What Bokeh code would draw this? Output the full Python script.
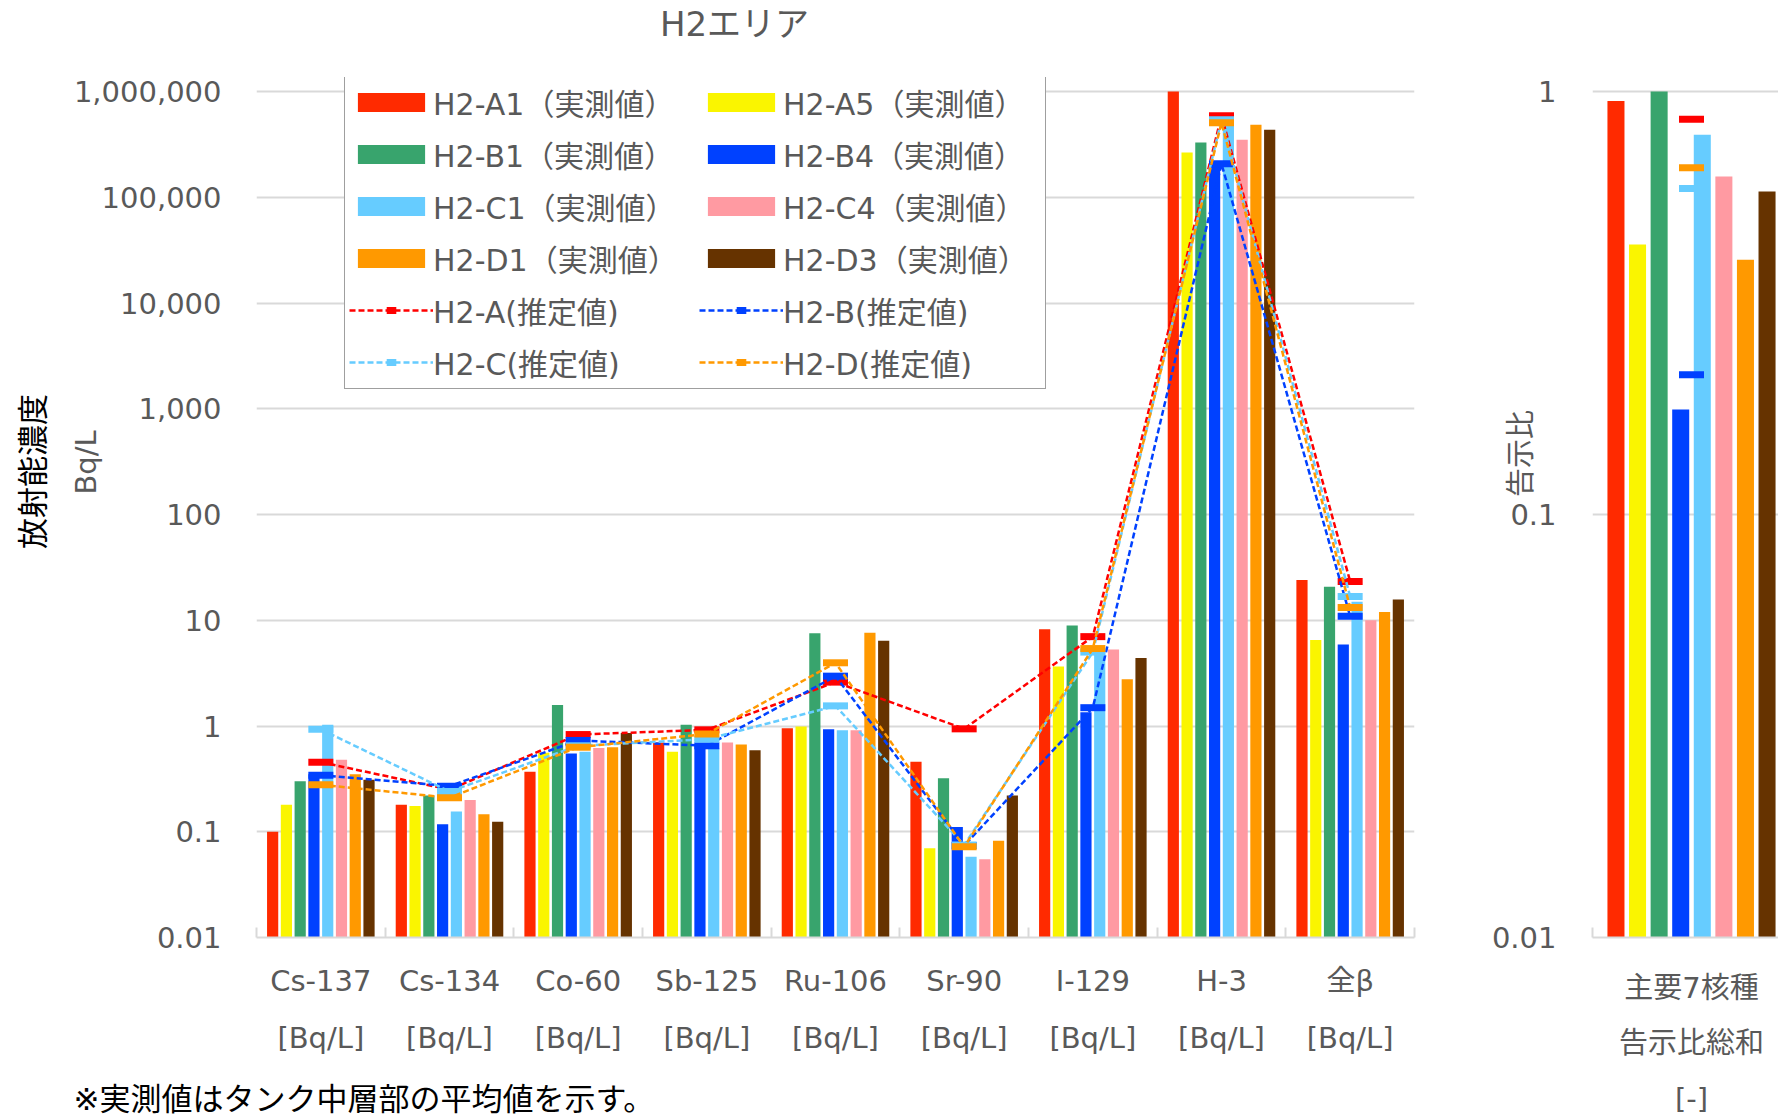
from math import pi
from bokeh.plotting import figure
from bokeh.layouts import row, column
from bokeh.models import (Range1d, FixedTicker, LinearAxis, NumeralTickFormatter,
                          Legend, LegendItem, Label)
from bokeh.embed import file_html
from bokeh.resources import INLINE

# ---------------- data ----------------
categories = ["Cs-137", "Cs-134", "Co-60", "Sb-125", "Ru-106", "Sr-90", "I-129", "H-3", "全β"]
unit_labels = ["[Bq/L]"] * 9

bar_names = ["H2-A1（実測値）", "H2-A5（実測値）", "H2-B1（実測値）", "H2-B4（実測値）",
             "H2-C1（実測値）", "H2-C4（実測値）", "H2-D1（実測値）", "H2-D3（実測値）"]
bar_colors = ["#FF2A00", "#FAF500", "#38A46D", "#0041FF", "#66CCFF", "#FF9AA2", "#FF9900", "#663300"]

h2_a1 = [0.10, 0.18, 0.37, 0.70, 0.95, 0.46, 8.2, 1.0e6, 24.0]
h2_a5 = [0.18, 0.175, 0.56, 0.57, 0.99, 0.070, 3.65, 2.65e5, 6.5]
h2_b1 = [0.30, 0.22, 1.58, 1.03, 7.55, 0.32, 8.9, 3.3e5, 20.7]
h2_b4 = [0.35, 0.118, 0.55, 0.65, 0.93, 0.111, 1.35, 2.2e5, 5.9]
h2_c1 = [1.03, 0.155, 0.57, 0.62, 0.91, 0.058, 5.2, 5.0e5, 15.0]
h2_c4 = [0.48, 0.20, 0.62, 0.70, 0.91, 0.055, 5.3, 3.5e5, 10.0]
h2_d1 = [0.35, 0.146, 0.63, 0.67, 7.6, 0.082, 2.77, 4.85e5, 12.0]
h2_d3 = [0.31, 0.124, 0.86, 0.59, 6.4, 0.22, 4.4, 4.35e5, 15.7]
bar_series = [h2_a1, h2_a5, h2_b1, h2_b4, h2_c1, h2_c4, h2_d1, h2_d3]

est_names = ["H2-A(推定値)", "H2-B(推定値)", "H2-C(推定値)", "H2-D(推定値)"]
est_colors = ["#FF0000", "#0041FF", "#66CCFF", "#FF9900"]
est_a = [0.455, 0.25, 0.83, 0.92, 2.6, 0.94, 7.0, 5.9e5, 23.3]
est_b = [0.343, 0.27, 0.73, 0.65, 2.96, 0.074, 1.49, 2.07e5, 10.9]
est_c = [0.93, 0.24, 0.65, 0.75, 1.55, 0.075, 5.0, 5.4e5, 16.8]
est_d = [0.278, 0.21, 0.63, 0.84, 3.96, 0.072, 5.4, 5.06e5, 13.2]
est_series = [est_a, est_b, est_c, est_d]

ratio_label_lines = ["主要7核種", "告示比総和", "[-]"]
ratio_bars = [0.95, 0.435, 1.0, 0.177, 0.79, 0.63, 0.40, 0.58]
ratio_est = [0.86, 0.214, 0.59, 0.66]

main_ticks = [0.01, 0.1, 1, 10, 100, 1000, 10000, 100000, 1000000]
ratio_ticks = [0.01, 0.1, 1]

chart_title = "H2エリア"
y_title = "放射能濃度"
y_unit = "Bq/L"
ratio_y_title = "告示比"
footnote = "※実測値はタンク中層部の平均値を示す。"

# ---------------- style / layout constants ----------------
FONT = "DejaVu Sans, Noto Sans CJK JP"
GRAY = "#595959"
GRID = "#D9D9D9"
FS = "29px"
PAGE_W, PAGE_H = 1778, 1118
PLOT_H = 846                     # height from top gridline to the 0.01 axis
EXTRA_TOP = 14                   # frames extend a little above the top gridline
TOP_BORDER = 91 - EXTRA_TOP
BOTTOM_BORDER = PAGE_H - TOP_BORDER - PLOT_H - EXTRA_TOP

n = len(categories)
centers = [i + 0.5 for i in range(n)]
boundaries = [float(i) for i in range(n + 1)]
PITCH = 0.107
BW = 0.087


def style_common(p):
    p.outline_line_color = None
    p.background_fill_color = "white"
    p.border_fill_color = "white"
    p.xgrid.grid_line_color = None
    p.ygrid.grid_line_color = GRID
    p.ygrid.grid_line_width = 2
    ax = p.yaxis[0]
    ax.formatter = NumeralTickFormatter(format="0,0.[00]")
    ax.axis_line_color = None
    ax.major_tick_line_color = None
    ax.minor_tick_line_color = None
    ax.major_tick_out = 0
    ax.major_tick_in = 0
    ax.minor_tick_out = 0
    ax.minor_tick_in = 0
    ax.major_label_text_font = FONT
    ax.major_label_text_font_size = FS
    ax.major_label_text_color = GRAY


def label_axis(labels, ticks, standoff, minor=None):
    if minor is not None:
        ax = LinearAxis(ticker=FixedTicker(ticks=ticks, minor_ticks=minor),
                        major_label_overrides={c: lab for c, lab in zip(ticks, labels)})
        ax.axis_line_color = GRID
        ax.axis_line_width = 2
        ax.minor_tick_line_color = GRID
        ax.minor_tick_line_width = 2
        ax.minor_tick_in = 10
        ax.minor_tick_out = 0
    else:
        ax = LinearAxis(ticker=FixedTicker(ticks=ticks),
                        major_label_overrides={c: lab for c, lab in zip(ticks, labels)})
        ax.axis_line_color = None
        ax.minor_tick_line_color = None
        ax.minor_tick_in = 0
        ax.minor_tick_out = 0
    ax.major_tick_line_color = None
    ax.major_tick_in = 0
    ax.major_tick_out = 0
    ax.major_label_standoff = standoff
    ax.major_label_text_font = FONT
    ax.major_label_text_font_size = FS
    ax.major_label_text_color = GRAY
    return ax


# ---------------- main chart ----------------
y_top_main = 1e6 * 10 ** (EXTRA_TOP / (PLOT_H / 8))
p = figure(frame_width=1158, frame_height=PLOT_H + EXTRA_TOP, min_border_left=256, min_border_right=66,
           min_border_top=TOP_BORDER, min_border_bottom=BOTTOM_BORDER,
           x_range=Range1d(0, n), y_range=Range1d(0.01, y_top_main), y_axis_type="log",
           x_axis_location=None, output_backend="svg", toolbar_location=None)
style_common(p)
p.yaxis[0].ticker = FixedTicker(ticks=main_ticks)
p.ygrid.ticker = FixedTicker(ticks=main_ticks)
p.yaxis[0].major_label_standoff = 35

p.add_layout(label_axis(categories, centers, 26, minor=boundaries), "below")
p.add_layout(label_axis(unit_labels, centers, 20), "below")

items = []
for k, (vals, name, col) in enumerate(zip(bar_series, bar_names, bar_colors)):
    xs = [c + (k - 3.5) * PITCH for c in centers]
    r = p.vbar(x=xs, top=vals, bottom=0.01, width=BW, fill_color=col, line_color=None)
    items.append(LegendItem(label=name, renderers=[r]))

for vals, name, col in zip(est_series, est_names, est_colors):
    rl = p.line(x=centers, y=vals, line_color=col, line_width=2.5, line_dash="6 3")
    rm = p.scatter(x=centers, y=vals, marker="dash", size=25, line_color=col, line_width=7)
    items.append(LegendItem(label=name, renderers=[rl, rm]))

legend = Legend(items=items, location=(88, 548), ncols=2, orientation="horizontal",
                glyph_width=84, glyph_height=24, label_standoff=0, label_width=258,
                label_height=19, spacing=8, padding=4, margin=0,
                border_line_color="#404040", border_line_width=1.5,
                background_fill_color="white", background_fill_alpha=1.0,
                label_text_font=FONT, label_text_font_size="30px", label_text_color=GRAY)
p.add_layout(legend, "center")

# ---------------- ratio chart ----------------
y_top_ratio = 1.0 * 10 ** (EXTRA_TOP / (PLOT_H / 2))
q = figure(frame_width=186, frame_height=PLOT_H + EXTRA_TOP, min_border_left=112, min_border_right=0,
           min_border_top=TOP_BORDER, min_border_bottom=BOTTOM_BORDER,
           x_range=Range1d(0, 186 / 198), y_range=Range1d(0.01, y_top_ratio), y_axis_type="log",
           x_axis_location=None, output_backend="svg", toolbar_location=None)
style_common(q)
q.yaxis[0].ticker = FixedTicker(ticks=ratio_ticks)
q.ygrid.ticker = FixedTicker(ticks=ratio_ticks)
q.yaxis[0].major_label_standoff = 36

RP = 0.109
RBW = 0.086
for k, (val, col) in enumerate(zip(ratio_bars, bar_colors)):
    q.vbar(x=[0.5 + (k - 3.5) * RP], top=[val], bottom=0.01, width=RBW,
           fill_color=col, line_color=None)
for val, col in zip(ratio_est, est_colors):
    q.scatter(x=[0.5], y=[val], marker="dash", size=25, line_color=col, line_width=7)

for j, (lab, so) in enumerate(zip(ratio_label_lines, [33, 18, 19])):
    q.add_layout(label_axis([lab], [0.5], so, minor=[0.0, 1.0] if j == 0 else None), "below")

# ---------------- transparent text overlay (page pixel coordinates) ----------------
ov = figure(width=PAGE_W, height=PAGE_H, min_border=0,
            x_range=Range1d(0, PAGE_W), y_range=Range1d(PAGE_H, 0),
            x_axis_location=None, y_axis_location=None,
            output_backend="svg", toolbar_location=None, margin=(-PAGE_H, 0, 0, 0))
ov.outline_line_color = None
ov.background_fill_alpha = 0
ov.border_fill_alpha = 0
ov.grid.visible = False


def add_text(fig, x, y, text, color=GRAY, size=FS, angle=0.0, align="center"):
    fig.add_layout(Label(x=x, y=y, text=text, angle=angle, text_align=align,
                         text_baseline="middle", text_font=FONT, text_font_size=size,
                         text_color=color))


add_text(ov, 734, 23, chart_title, size="34px")
add_text(ov, 32, 471, y_title, color="black", size="31px", angle=pi / 2)
add_text(ov, 85, 462, y_unit, angle=pi / 2)
add_text(ov, 1520, 453, ratio_y_title, angle=pi / 2)
add_text(ov, 73, 1098, footnote, color="black", size="31px", align="left")

layout = column(row(p, q), ov)
open("out.html", "w").write(file_html(layout, INLINE))
